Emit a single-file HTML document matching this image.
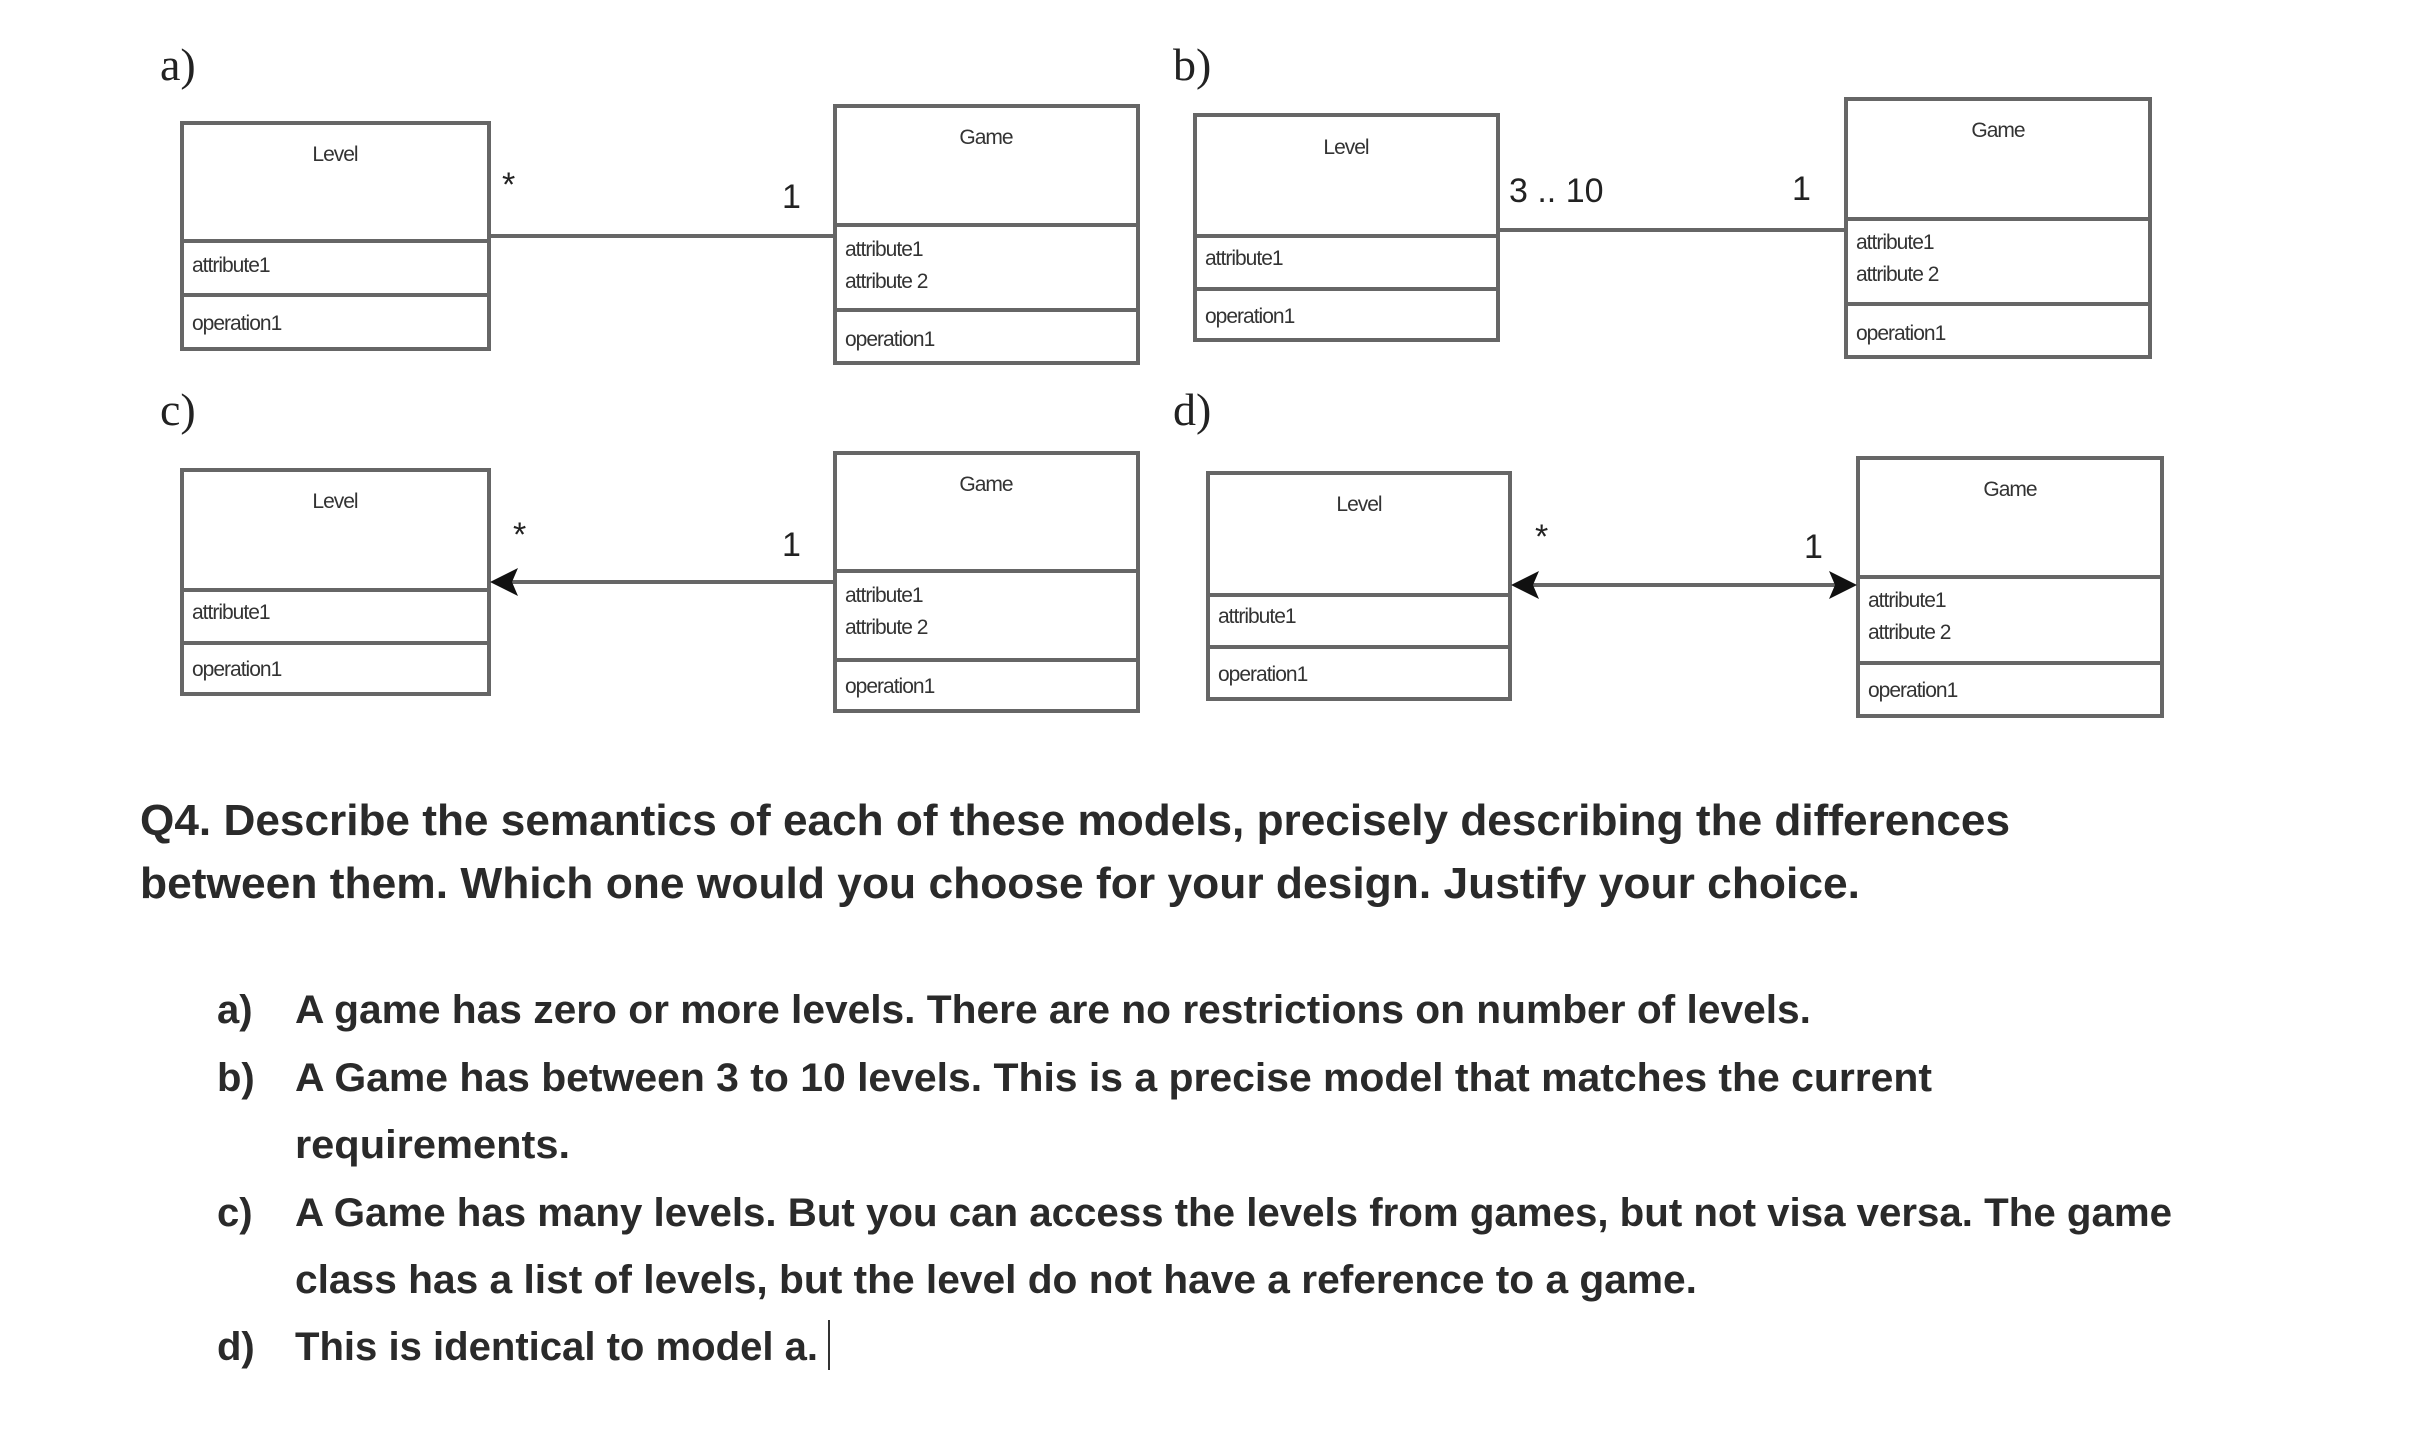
<!DOCTYPE html>
<html><head><meta charset="utf-8"><style>
html,body{margin:0;padding:0;background:#fff;}
body{width:2434px;height:1441px;position:relative;overflow:hidden;font-family:"Liberation Sans",sans-serif;}
svg{position:absolute;left:0;top:0;}
</style></head><body>
<svg width="2434" height="1441" viewBox="0 0 2434 1441" font-family="Liberation Sans, sans-serif">
<g font-family="Liberation Serif, serif" font-size="46" fill="#222">
<text x="160" y="80">a)</text>
<text x="1173" y="80">b)</text>
<text x="160" y="425">c)</text>
<text x="1173" y="425">d)</text>
</g>
<g stroke="#666" stroke-width="4" fill="none">
<rect x="182" y="123" width="307" height="226"/><line x1="182" y1="241" x2="489" y2="241"/><line x1="182" y1="295" x2="489" y2="295"/>
<rect x="835" y="106" width="303" height="257"/><line x1="835" y1="225" x2="1138" y2="225"/><line x1="835" y1="310" x2="1138" y2="310"/>
<line x1="489" y1="236" x2="835" y2="236"/>
<rect x="1195" y="115" width="303" height="225"/><line x1="1195" y1="236" x2="1498" y2="236"/><line x1="1195" y1="289" x2="1498" y2="289"/>
<rect x="1846" y="99" width="304" height="258"/><line x1="1846" y1="219" x2="2150" y2="219"/><line x1="1846" y1="304" x2="2150" y2="304"/>
<line x1="1498" y1="230" x2="1846" y2="230"/>
<rect x="182" y="470" width="307" height="224"/><line x1="182" y1="590" x2="489" y2="590"/><line x1="182" y1="643" x2="489" y2="643"/>
<rect x="835" y="453" width="303" height="258"/><line x1="835" y1="571" x2="1138" y2="571"/><line x1="835" y1="660" x2="1138" y2="660"/>
<line x1="500" y1="582" x2="835" y2="582"/>
<rect x="1208" y="473" width="302" height="226"/><line x1="1208" y1="595" x2="1510" y2="595"/><line x1="1208" y1="647" x2="1510" y2="647"/>
<rect x="1858" y="458" width="304" height="258"/><line x1="1858" y1="577" x2="2162" y2="577"/><line x1="1858" y1="663" x2="2162" y2="663"/>
<line x1="1520" y1="585" x2="1848" y2="585"/>
</g>
<g fill="#111">
<polygon points="490,582 518,568 512,582 518,596"/>
<polygon points="1511,585 1539,571 1533,585 1539,599"/>
<polygon points="1857,585 1829,571 1835,585 1829,599"/>
</g>
<g font-size="21" fill="#333" letter-spacing="-1">
<text x="335" y="161" text-anchor="middle">Level</text>
<text x="192" y="272">attribute1</text><text x="192" y="330">operation1</text>
<text x="986" y="144" text-anchor="middle">Game</text>
<text x="845" y="256">attribute1</text><text x="845" y="288">attribute 2</text><text x="845" y="346">operation1</text>
<text x="1346" y="154" text-anchor="middle">Level</text>
<text x="1205" y="265">attribute1</text><text x="1205" y="323">operation1</text>
<text x="1998" y="137" text-anchor="middle">Game</text>
<text x="1856" y="249">attribute1</text><text x="1856" y="281">attribute 2</text><text x="1856" y="340">operation1</text>
<text x="335" y="508" text-anchor="middle">Level</text>
<text x="192" y="619">attribute1</text><text x="192" y="676">operation1</text>
<text x="986" y="491" text-anchor="middle">Game</text>
<text x="845" y="602">attribute1</text><text x="845" y="634">attribute 2</text><text x="845" y="693">operation1</text>
<text x="1359" y="511" text-anchor="middle">Level</text>
<text x="1218" y="623">attribute1</text><text x="1218" y="681">operation1</text>
<text x="2010" y="496" text-anchor="middle">Game</text>
<text x="1868" y="607">attribute1</text><text x="1868" y="639">attribute 2</text><text x="1868" y="697">operation1</text>
</g>
<g font-size="34" fill="#222">
<text x="502" y="196">*</text><text x="782" y="208">1</text>
<text x="1509" y="202">3 .. 10</text><text x="1792" y="200">1</text>
<text x="513" y="546">*</text><text x="782" y="556">1</text>
<text x="1535" y="548">*</text><text x="1804" y="558">1</text>
</g>
<g fill="#2a2a2a" font-weight="bold" lengthAdjust="spacingAndGlyphs">
<text x="140" y="835" font-size="44" textLength="1870" lengthAdjust="spacingAndGlyphs">Q4. Describe the semantics of each of these models, precisely describing the differences</text>
<text x="140" y="898" font-size="44" textLength="1720" lengthAdjust="spacingAndGlyphs">between them. Which one would you choose for your design. Justify your choice.</text>
<g font-size="40">
<text x="217" y="1023">a)</text><text x="295" y="1023" textLength="1516" lengthAdjust="spacingAndGlyphs">A game has zero or more levels. There are no restrictions on number of levels.</text>
<text x="217" y="1091">b)</text><text x="295" y="1091" textLength="1637" lengthAdjust="spacingAndGlyphs">A Game has between 3 to 10 levels. This is a precise model that matches the current</text>
<text x="295" y="1158" textLength="275" lengthAdjust="spacingAndGlyphs">requirements.</text>
<text x="217" y="1226">c)</text><text x="295" y="1226" textLength="1877" lengthAdjust="spacingAndGlyphs">A Game has many levels. But you can access the levels from games, but not visa versa. The game</text>
<text x="295" y="1293" textLength="1402" lengthAdjust="spacingAndGlyphs">class has a list of levels, but the level do not have a reference to a game.</text>
<text x="217" y="1360">d)</text><text x="295" y="1360" textLength="523" lengthAdjust="spacingAndGlyphs">This is identical to model a.</text>
</g>
</g>
<line x1="829" y1="1320" x2="829" y2="1370" stroke="#333" stroke-width="2"/>
</svg>
</body></html>
